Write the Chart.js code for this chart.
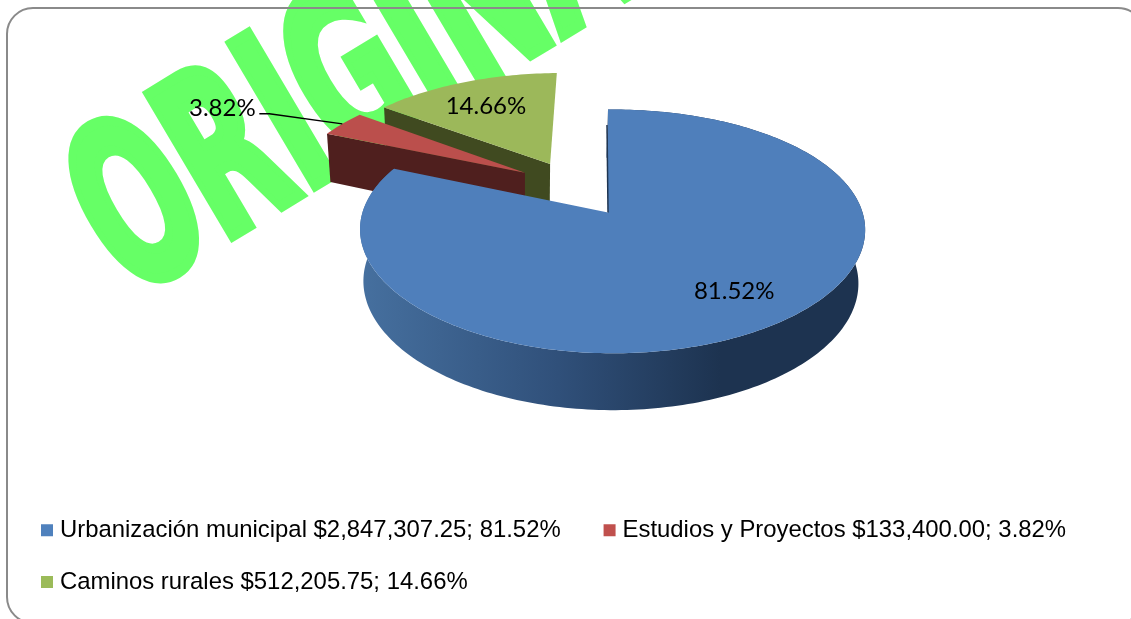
<!DOCTYPE html>
<html>
<head>
<meta charset="utf-8">
<title>Inversión por rubro</title>
<style>
    html, body { margin: 0; padding: 0; background: #fff; }
    #wrap { width: 1131px; height: 619px; overflow: hidden; }
</style>
<script src="https://cdn.jsdelivr.net/npm/chart.js@4/dist/chart.umd.min.js"></script>
</head>
<body>
<div id="wrap"><canvas id="pieChart" width="1131" height="619"></canvas></div>
<script>
const categories = ['Urbanización municipal', 'Estudios y Proyectos', 'Caminos rurales'];
const amounts = [2847307.25, 133400.00, 512205.75];
const sliceColors = ['#4f7fbb', '#bb4f4c', '#9cb85a'];
const legendColors = ['#4f81bd', '#c0504d', '#9bbb59'];
const wallColors = ['#1f3551', '#4f1f1e', '#404a20'];
const explode = [44, 76, 80];
const watermark = 'ORIGINAL';

const total = amounts.reduce((a, b) => a + b, 0);
const pct = v => (v / total * 100).toFixed(2) + '%';
const money = v => '$' + v.toLocaleString('en-US', { minimumFractionDigits: 2, maximumFractionDigits: 2 });

// fake 3D view: where the pie sits and how it is tilted
const view = { shiftX: 33.5, shiftY: -32.5, tilt: 0.476, depth: 54, kv: 0.154, kvx: 0.14, ku: 0.018, kz: 0.03, kzx: 0.02, skewZ: -1.5 };
// the small slices do not sit quite on their radial lines in the original
const apexNudge = [[0, 0], [0.008, -0.055], [-0.008, -0.004]];
// label placement: radius along the middle of the slice, then a small nudge
const labelRadius = [0.75, 1, 0.6];
const labelNudge = [[12.5, -5], [-120, -16], [-10, -6]];

let R, cx, cy;
function project(u, v, z) {
    const w = 1 - view.kv * v - view.ku * u + view.kz * z;
    const wx = 1 - view.kvx * v - view.ku * u + view.kzx * z;
    return [cx + R * u / wx + view.skewZ * z, cy + (view.tilt * R * v + view.depth * z) / w];
}

function sliceInfo(chart) {
    const arcs = chart.getDatasetMeta(0).data;
    const blue = arcs[0];
    const blueMid = (blue.startAngle + blue.endAngle) / 2;
    R = blue.outerRadius;
    cx = blue.x + view.shiftX;
    cy = blue.y + view.shiftY;
    return arcs.map((arc, i) => {
        const mid = (arc.startAngle + arc.endAngle) / 2;
        return {
            i, mid,
            start: arc.startAngle,
            end: arc.endAngle,
            // apex of the slice, measured from the apex of the big slice
            ax: (explode[i] * Math.cos(mid) - explode[0] * Math.cos(blueMid)) / R + apexNudge[i][0],
            ay: (explode[i] * Math.sin(mid) - explode[0] * Math.sin(blueMid)) / R + apexNudge[i][1]
        };
    });
}

function tracePoly(ctx, pts) {
    ctx.beginPath();
    pts.forEach((p, k) => (k ? ctx.lineTo(p[0], p[1]) : ctx.moveTo(p[0], p[1])));
    ctx.closePath();
}

function rimPoints(s, z) {
    const pts = [];
    const n = Math.ceil((s.end - s.start) / 0.02);
    for (let k = 0; k <= n; k++) {
        const t = s.start + (s.end - s.start) * k / n;
        pts.push(project(s.ax + Math.cos(t), s.ay + Math.sin(t), z));
    }
    return pts;
}

function drawSlice(ctx, s) {
    const apexTop = project(s.ax, s.ay, 0);
    const apexBottom = project(s.ax, s.ay, 1);
    const rimTop = rimPoints(s, 0);
    const rimBottom = rimPoints(s, 1);

    if (s.i === 0) {
        // outer wall, only the big slice faces the viewer with it
        tracePoly(ctx, rimTop.concat(rimBottom.slice().reverse()));
        const g = ctx.createLinearGradient(360, 0, 720, 0);
        g.addColorStop(0, '#46709f');
        g.addColorStop(0.55, '#30507a');
        g.addColorStop(1, '#1d3350');
        ctx.fillStyle = g;
        ctx.fill();
    } else {
        // cut wall of the small slices
        ctx.fillStyle = wallColors[s.i];
        tracePoly(ctx, [apexTop, rimTop[0], rimBottom[0], apexBottom]);
        ctx.fill();
    }

    // top face
    tracePoly(ctx, [apexTop].concat(rimTop));
    ctx.fillStyle = sliceColors[s.i];
    ctx.fill();

    if (s.i === 0) {
        // dark sliver along the cut at twelve o'clock
        const a = project(s.ax + 0.17 * Math.cos(s.start), s.ay + 0.83 * Math.sin(s.start), 0);
        ctx.beginPath();
        ctx.moveTo(a[0] - 1, a[1]);
        ctx.lineTo(apexTop[0], apexTop[1]);
        ctx.strokeStyle = wallColors[0];
        ctx.lineWidth = 1.5;
        ctx.stroke();
    }
}

const backdrop = {
    id: 'backdrop',
    beforeDraw(chart) {
        const ctx = chart.ctx;
        ctx.save();
        ctx.fillStyle = '#fff';
        ctx.fillRect(0, 0, chart.width, chart.height);

        ctx.save();
        ctx.translate(130, 298);
        ctx.transform(0.855 * 0.555, -0.519 * 0.555, 0.509, 0.86, 0, 0);
        ctx.font = 'bold 226px "DejaVu Sans"';
        ctx.textBaseline = 'alphabetic';
        ctx.fillStyle = '#66ff66';
        ctx.strokeStyle = '#66ff66';
        ctx.lineWidth = 11;
        ctx.lineJoin = 'miter';
        ctx.miterLimit = 3;
        ctx.fillText(watermark, 0, 0);
        ctx.strokeText(watermark, 0, 0);
        ctx.restore();

        ctx.beginPath();
        ctx.roundRect(7, 8, 1137, 615, 26);
        ctx.strokeStyle = '#8a8a8a';
        ctx.lineWidth = 2;
        ctx.stroke();
        ctx.restore();
    }
};

const pie3d = {
    id: 'pie3d',
    beforeDatasetDraw(chart) {
        const ctx = chart.ctx;
        const slices = sliceInfo(chart);
        ctx.save();
        [2, 1, 0].forEach(i => drawSlice(ctx, slices[i]));
        ctx.restore();
        return false;
    },
    afterDatasetsDraw(chart) {
        const ctx = chart.ctx;
        const slices = sliceInfo(chart);
        ctx.save();
        ctx.font = '24px Lato';
        ctx.fillStyle = '#000';
        ctx.textAlign = 'center';
        ctx.textBaseline = 'middle';
        slices.forEach(s => {
            const r = labelRadius[s.i];
            const p = project(s.ax + r * Math.cos(s.mid), s.ay + r * Math.sin(s.mid), 0);
            const x = p[0] + labelNudge[s.i][0];
            const y = p[1] + labelNudge[s.i][1];
            ctx.fillText(pct(amounts[s.i]), x, y);
            if (r === 1) {
                // leader line of the outside label
                ctx.beginPath();
                ctx.moveTo(x + 37, y + 6);
                ctx.lineTo(x + 47, y + 6);
                ctx.lineTo(p[0], p[1]);
                ctx.strokeStyle = '#000';
                ctx.lineWidth = 1.5;
                ctx.stroke();
            }
        });
        ctx.restore();
    }
};

new Chart(document.getElementById('pieChart').getContext('2d'), {
    type: 'pie',
    data: {
        labels: categories,
        datasets: [{
            data: amounts,
            backgroundColor: sliceColors,
            borderWidth: 0,
            offset: explode
        }]
    },
    options: {
        responsive: false,
        animation: false,
        radius: 250,
        layout: { padding: { left: 18, right: 0, top: 0, bottom: 15 } },
        plugins: {
            tooltip: { enabled: false },
            legend: {
                display: true,
                position: 'bottom',
                align: 'start',
                labels: {
                    color: '#1a1a1a',
                    font: { family: '"Liberation Sans"', size: 23.9 },
                    boxWidth: 2,
                    boxHeight: 2,
                    padding: 28,
                    generateLabels() {
                        return categories.map((name, i) => ({
                            text: name + ' ' + money(amounts[i]) + '; ' + pct(amounts[i]) + (i === 0 ? '\u00a0\u00a0\u00a0' : ''),
                            fillStyle: legendColors[i],
                            strokeStyle: legendColors[i],
                            lineWidth: 10,
                            index: i
                        }));
                    }
                }
            }
        }
    },
    plugins: [backdrop, pie3d]
});
</script>
</body>
</html>
